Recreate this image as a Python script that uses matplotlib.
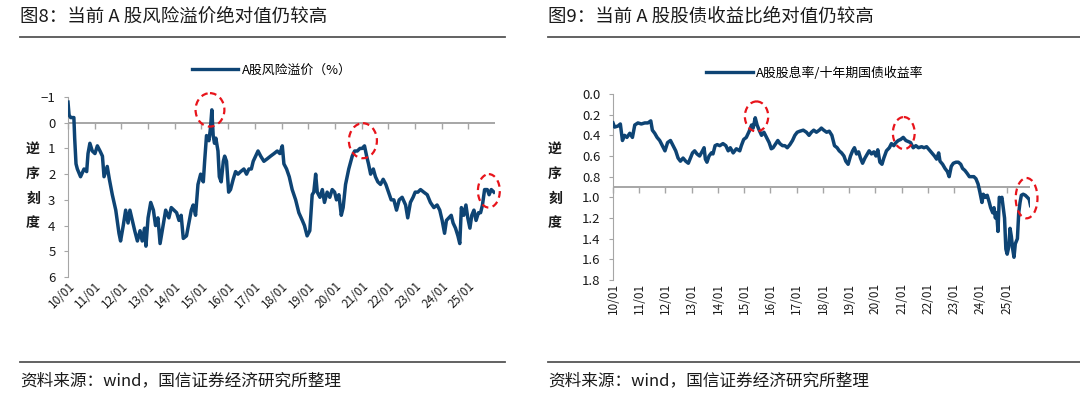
import matplotlib
matplotlib.use("Agg")
import matplotlib.pyplot as plt
from matplotlib.patches import Ellipse
from matplotlib.lines import Line2D

plt.rcParams['font.family'] = ['Noto Sans CJK SC', 'DejaVu Sans']
plt.rcParams['axes.unicode_minus'] = True

# ---------------- data ----------------
tick_years = list(range(2010, 2026))
tick_labels = [f"{y % 100:02d}/01" for y in tick_years]

# Left: A-share risk premium (%) -- (decimal year, value)
risk_premium = [
    (2010.00, -0.8), (2010.04, -0.3), (2010.10, -0.2), (2010.22, -0.2), (2010.25, 0.6),
    (2010.30, 1.6), (2010.35, 1.8), (2010.47, 2.1), (2010.60, 1.8), (2010.70, 1.9),
    (2010.75, 1.2), (2010.82, 0.8), (2010.91, 1.1), (2011.01, 1.2), (2011.10, 0.9),
    (2011.20, 1.1), (2011.29, 1.3), (2011.35, 2.1), (2011.47, 1.7), (2011.55, 2.2),
    (2011.66, 2.8), (2011.79, 3.4), (2011.91, 4.3), (2011.97, 4.6), (2012.07, 4.0),
    (2012.16, 3.4), (2012.25, 3.9), (2012.32, 3.4), (2012.41, 3.8), (2012.50, 4.2),
    (2012.60, 4.6), (2012.70, 4.2), (2012.78, 4.6), (2012.87, 4.1), (2012.92, 4.8),
    (2013.00, 3.7), (2013.10, 3.1), (2013.20, 3.4), (2013.28, 4.0), (2013.37, 3.7),
    (2013.45, 4.7), (2013.53, 4.2), (2013.66, 3.4), (2013.78, 3.7), (2013.87, 3.3),
    (2013.97, 3.4), (2014.07, 3.5), (2014.16, 3.8), (2014.24, 3.6), (2014.32, 4.5),
    (2014.44, 4.4), (2014.53, 3.9), (2014.62, 3.4), (2014.69, 3.2), (2014.78, 3.6),
    (2014.87, 2.4), (2014.97, 2.0), (2015.07, 2.3), (2015.12, 1.5), (2015.19, 0.5),
    (2015.28, 0.7), (2015.34, 0.2), (2015.39, -0.5), (2015.44, 0.5), (2015.49, 0.8),
    (2015.54, 0.6), (2015.62, 1.1), (2015.67, 2.1), (2015.74, 2.3), (2015.82, 1.5),
    (2015.87, 1.3), (2015.94, 1.5), (2016.02, 2.7), (2016.09, 2.6), (2016.19, 2.2),
    (2016.28, 1.9), (2016.37, 2.0), (2016.47, 1.9), (2016.59, 1.8), (2016.69, 2.0),
    (2016.78, 1.8), (2016.87, 1.8), (2016.94, 1.5), (2017.03, 1.3), (2017.12, 1.1),
    (2017.22, 1.3), (2017.34, 1.5), (2017.47, 1.4), (2017.59, 1.3), (2017.72, 1.2),
    (2017.84, 1.1), (2017.94, 1.2), (2018.03, 0.9), (2018.09, 1.6), (2018.19, 1.8),
    (2018.29, 2.1), (2018.40, 2.6), (2018.53, 3.0), (2018.65, 3.5), (2018.78, 3.8),
    (2018.86, 4.0), (2018.96, 4.4), (2019.06, 4.2), (2019.15, 2.8), (2019.21, 2.7),
    (2019.28, 2.0), (2019.34, 2.7), (2019.44, 2.9), (2019.53, 2.6), (2019.61, 3.1),
    (2019.71, 2.7), (2019.81, 2.9), (2019.90, 2.6), (2019.99, 2.7), (2020.06, 3.0),
    (2020.15, 2.8), (2020.24, 3.6), (2020.31, 3.3), (2020.40, 2.4), (2020.52, 1.8),
    (2020.65, 1.3), (2020.74, 1.1), (2020.84, 1.1), (2020.94, 1.0), (2021.02, 1.0),
    (2021.11, 0.9), (2021.19, 1.3), (2021.26, 1.6), (2021.34, 2.0), (2021.44, 1.8),
    (2021.52, 2.1), (2021.61, 2.3), (2021.71, 2.4), (2021.81, 2.2), (2021.91, 2.4),
    (2022.01, 2.7), (2022.11, 3.0), (2022.21, 3.0), (2022.31, 3.4), (2022.41, 3.0),
    (2022.52, 2.9), (2022.65, 3.2), (2022.73, 3.7), (2022.83, 3.1), (2022.93, 2.9),
    (2023.01, 2.7), (2023.11, 2.7), (2023.21, 2.6), (2023.33, 2.7), (2023.46, 2.8),
    (2023.58, 3.1), (2023.71, 3.3), (2023.83, 3.2), (2023.93, 3.4), (2024.02, 3.8),
    (2024.11, 4.3), (2024.18, 3.8), (2024.27, 3.7), (2024.36, 3.6), (2024.43, 3.9),
    (2024.52, 4.1), (2024.61, 4.4), (2024.68, 4.7), (2024.74, 3.3), (2024.83, 3.6),
    (2024.91, 3.2), (2024.98, 3.7), (2025.06, 4.1), (2025.13, 3.6), (2025.21, 3.4),
    (2025.29, 3.8), (2025.38, 3.5), (2025.46, 3.5), (2025.53, 3.2), (2025.61, 2.6),
    (2025.71, 2.6), (2025.78, 2.8), (2025.86, 2.6), (2025.96, 2.7),
]

# Right: A-share dividend yield / 10Y government bond yield -- (decimal year, value)
yield_ratio = [
    (2010.00, 0.28), (2010.06, 0.32), (2010.19, 0.31), (2010.28, 0.29), (2010.36, 0.45),
    (2010.44, 0.40), (2010.53, 0.42), (2010.64, 0.38), (2010.74, 0.42), (2010.83, 0.30),
    (2010.95, 0.28), (2011.08, 0.29), (2011.21, 0.28), (2011.33, 0.28), (2011.44, 0.26),
    (2011.50, 0.35), (2011.59, 0.38), (2011.68, 0.42), (2011.78, 0.45), (2011.88, 0.50),
    (2011.98, 0.55), (2012.08, 0.47), (2012.19, 0.45), (2012.29, 0.50), (2012.39, 0.55),
    (2012.48, 0.62), (2012.57, 0.65), (2012.67, 0.62), (2012.77, 0.65), (2012.87, 0.67),
    (2012.95, 0.62), (2013.03, 0.57), (2013.11, 0.55), (2013.20, 0.58), (2013.30, 0.60),
    (2013.41, 0.55), (2013.47, 0.52), (2013.52, 0.63), (2013.58, 0.66), (2013.66, 0.60),
    (2013.75, 0.57), (2013.81, 0.58), (2013.89, 0.50), (2013.97, 0.49), (2014.07, 0.50),
    (2014.19, 0.48), (2014.30, 0.50), (2014.39, 0.55), (2014.47, 0.52), (2014.58, 0.57),
    (2014.70, 0.53), (2014.83, 0.55), (2014.89, 0.50), (2014.98, 0.44), (2015.08, 0.42),
    (2015.19, 0.36), (2015.28, 0.30), (2015.34, 0.33), (2015.42, 0.23), (2015.49, 0.30),
    (2015.57, 0.35), (2015.66, 0.40), (2015.75, 0.37), (2015.85, 0.42), (2015.95, 0.47),
    (2016.03, 0.53), (2016.10, 0.52), (2016.20, 0.48), (2016.28, 0.45), (2016.36, 0.48),
    (2016.46, 0.50), (2016.55, 0.50), (2016.64, 0.52), (2016.74, 0.49), (2016.84, 0.45),
    (2016.93, 0.40), (2017.02, 0.37), (2017.12, 0.36), (2017.25, 0.35), (2017.37, 0.37),
    (2017.47, 0.40), (2017.56, 0.37), (2017.65, 0.35), (2017.75, 0.37), (2017.86, 0.35),
    (2017.94, 0.33), (2018.03, 0.35), (2018.14, 0.37), (2018.24, 0.36), (2018.34, 0.40),
    (2018.44, 0.50), (2018.54, 0.52), (2018.62, 0.55), (2018.71, 0.57), (2018.80, 0.60),
    (2018.87, 0.65), (2018.96, 0.68), (2019.05, 0.60), (2019.13, 0.55), (2019.20, 0.52),
    (2019.28, 0.58), (2019.36, 0.56), (2019.43, 0.62), (2019.51, 0.67), (2019.60, 0.62),
    (2019.69, 0.58), (2019.76, 0.55), (2019.85, 0.58), (2019.94, 0.56), (2020.02, 0.60),
    (2020.09, 0.54), (2020.17, 0.66), (2020.25, 0.68), (2020.32, 0.62), (2020.42, 0.55),
    (2020.53, 0.52), (2020.61, 0.48), (2020.70, 0.50), (2020.78, 0.47), (2020.87, 0.45),
    (2020.96, 0.44), (2021.06, 0.42), (2021.16, 0.45), (2021.25, 0.46), (2021.34, 0.47),
    (2021.44, 0.52), (2021.54, 0.50), (2021.64, 0.52), (2021.76, 0.51), (2021.85, 0.52),
    (2021.95, 0.51), (2022.05, 0.54), (2022.15, 0.57), (2022.25, 0.60), (2022.33, 0.63),
    (2022.41, 0.57), (2022.46, 0.65), (2022.56, 0.68), (2022.65, 0.72), (2022.74, 0.75),
    (2022.81, 0.80), (2022.89, 0.70), (2022.97, 0.67), (2023.07, 0.66), (2023.16, 0.66),
    (2023.25, 0.68), (2023.32, 0.72), (2023.41, 0.74), (2023.50, 0.77), (2023.58, 0.80),
    (2023.66, 0.80), (2023.75, 0.80), (2023.83, 0.82), (2023.91, 0.87), (2023.98, 0.95),
    (2024.06, 1.05), (2024.11, 0.97), (2024.19, 1.00), (2024.26, 0.98), (2024.34, 1.05),
    (2024.39, 1.10), (2024.47, 1.15), (2024.52, 1.10), (2024.57, 1.20), (2024.62, 1.15),
    (2024.67, 1.33), (2024.72, 1.00), (2024.77, 1.02), (2024.82, 1.00), (2024.87, 1.10),
    (2024.92, 1.20), (2024.97, 1.50), (2025.02, 1.55), (2025.08, 1.48), (2025.13, 1.30),
    (2025.18, 1.38), (2025.23, 1.50), (2025.28, 1.58), (2025.33, 1.45), (2025.41, 1.40),
    (2025.46, 1.15), (2025.51, 1.05), (2025.56, 0.98), (2025.63, 0.97), (2025.71, 0.98),
    (2025.79, 1.00), (2025.86, 1.02), (2025.91, 1.08),
]

rp_x, rp_y = zip(*risk_premium)
dy_x, dy_y = zip(*yield_ratio)

# ---------------- style ----------------
LINE_C = '#0E4474'
AX_C = '#A6A6A6'
TXT_C = '#1a1a1a'
RED = '#E8141B'

fig = plt.figure(figsize=(10.8, 3.93), dpi=100)


def px_x(p):
    return p / 1080.0


def px_y(p):
    return 1 - p / 393.0


def style_axes(ax, ylim, yticks, ylabels, ref_value, ref_frac):
    ax.set_ylim(*ylim)
    ax.set_yticks(yticks)
    ax.set_yticklabels(ylabels, fontsize=9.5, color=TXT_C)
    for s in ['top', 'right', 'bottom']:
        ax.spines[s].set_visible(False)
    ax.spines['left'].set_color(AX_C)
    ax.tick_params(axis='y', direction='out', length=3, color=AX_C, pad=6)
    ax.set_xticks(tick_years)
    ax.tick_params(axis='x', length=0, pad=2)
    ax.axhline(ref_value, color=AX_C, lw=1.4, zorder=1)
    sec = ax.secondary_xaxis(ref_frac)
    sec.set_xticks(tick_years)
    sec.tick_params(axis='x', direction='in', length=4, width=1.0, color=AX_C,
                    labelbottom=False, labeltop=False)
    for s in sec.spines.values():
        s.set_visible(False)


# ---------------- left chart ----------------
axL = fig.add_axes([px_x(68), px_y(277), px_x(427), (277 - 97) / 393.0])
axL.plot(rp_x, rp_y, color=LINE_C, lw=2.5, solid_joinstyle='round', zorder=3)
axL.set_xlim(2010, 2026)
yl = list(range(-1, 7))
style_axes(axL, (6, -1), yl, [str(v).replace('-', '−') for v in yl], 0, 6 / 7)
axL.set_xticklabels(tick_labels, rotation=45, fontsize=8.5, ha='right', va='top',
                    rotation_mode='anchor', color=TXT_C)
for (cx, cy, w, h) in [(2015.32, -0.5, 1.08, 1.3), (2021.05, 0.7, 1.05, 1.36),
                       (2025.77, 2.65, 0.82, 1.3)]:
    axL.add_patch(Ellipse((cx, cy), w, h, fill=False, ec=RED, lw=1.6, ls=(0, (3, 2)),
                          clip_on=False, zorder=4))
axL.legend(handles=[Line2D([], [], color=LINE_C, lw=2.4)], labels=['A股风险溢价（%）'],
           loc='center', bbox_to_anchor=(px_x(272), px_y(70)), bbox_transform=fig.transFigure,
           frameon=False, fontsize=9.3, handlelength=3.6, handletextpad=0.3)

# ---------------- right chart ----------------
axR = fig.add_axes([px_x(613), px_y(280), px_x(417), (280 - 94) / 393.0])
axR.plot(dy_x, dy_y, color=LINE_C, lw=2.5, solid_joinstyle='round', zorder=3)
axR.set_xlim(2010, 2025.89)
yt = [round(0.2 * i, 1) for i in range(10)]
style_axes(axR, (1.8, 0.0), yt, [f"{v:.1f}" for v in yt], 0.9, 0.5)
axR.set_xticklabels(tick_labels, rotation=90, fontsize=8.5, ha='center', va='top', color=TXT_C)
for (cx, cy, w, h) in [(2015.47, 0.217, 0.89, 0.29), (2021.08, 0.378, 0.83, 0.31),
                       (2025.76, 1.008, 0.83, 0.39)]:
    axR.add_patch(Ellipse((cx, cy), w, h, fill=False, ec=RED, lw=1.6, ls=(0, (3, 2)),
                          clip_on=False, zorder=4))
axR.legend(handles=[Line2D([], [], color=LINE_C, lw=2.4)], labels=['A股股息率/十年期国债收益率'],
           loc='center', bbox_to_anchor=(px_x(815), px_y(73)), bbox_transform=fig.transFigure,
           frameon=False, fontsize=9.3, handlelength=3.6, handletextpad=0.3)

# ---------------- titles, rules, sources ----------------
fig.text(px_x(20), px_y(17), '图8：当前 A 股风险溢价绝对值仍较高', fontsize=13.3,
         va='center', ha='left', color=TXT_C)
fig.text(px_x(548), px_y(17), '图9：当前 A 股股债收益比绝对值仍较高', fontsize=13.3,
         va='center', ha='left', color=TXT_C)
for x0, x1 in [(20, 505), (548, 1080)]:
    for yy in (37, 362):
        fig.add_artist(Line2D([px_x(x0), px_x(x1)], [px_y(yy), px_y(yy)],
                              color='#555555', lw=1.3))
for xx in (20, 548):
    fig.text(px_x(xx), px_y(381), '资料来源：wind，国信证券经济研究所整理', fontsize=12,
             va='center', ha='left', color=TXT_C)

for xx in (33, 555):
    fig.text(px_x(xx), px_y(186), '逆\n序\n刻\n度', fontsize=10, fontweight='bold',
             ha='center', va='center', linespacing=2.0, color=TXT_C)

fig.savefig('out.png', dpi=100)
